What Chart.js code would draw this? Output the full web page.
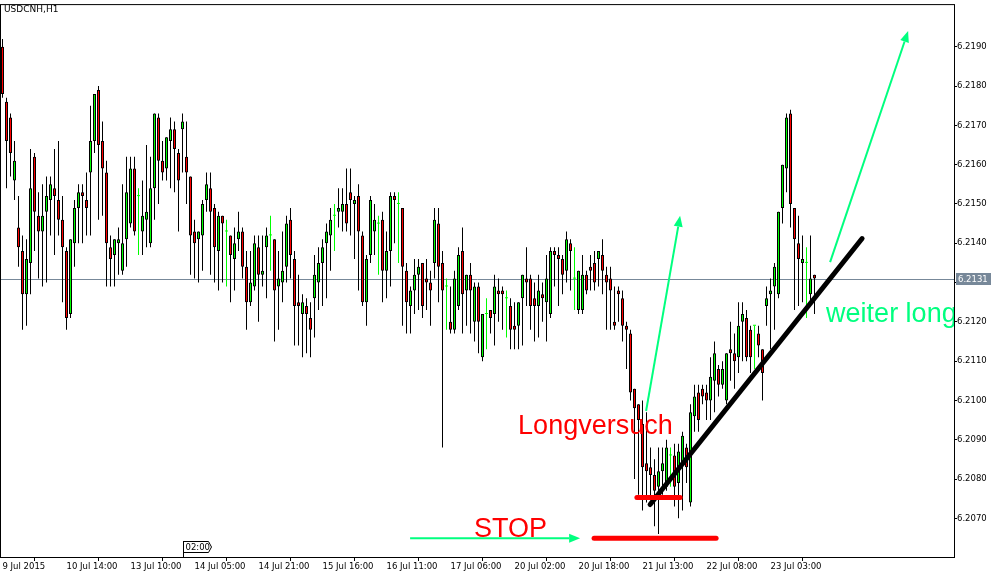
<!DOCTYPE html>
<html>
<head>
<meta charset="utf-8">
<title>USDCNH,H1</title>
<script src="https://cdn.jsdelivr.net/npm/chart.js@4.4.1/dist/chart.umd.min.js"></script>
<style>
  html, body { margin: 0; padding: 0; background: #fff; }
  #chart { display: block; }
</style>
</head>
<body>
<canvas id="chart" width="1002" height="578"></canvas>
<script>
const symbol = "USDCNH,H1";

// H1 candles, one entry per bar (16 bars per row = one time label)
const opens = [
  6.2190, 6.2176, 6.2172, 6.2156, 6.2144, 6.2138, 6.2127, 6.2135, 6.2162, 6.2147, 6.2143, 6.2148, 6.2151, 6.2154, 6.2151, 6.2146,
  6.2138, 6.2122, 6.2140, 6.2149, 6.2153, 6.2151, 6.2158, 6.2166, 6.2179, 6.2166, 6.2158, 6.2139, 6.2137, 6.2140, 6.2133, 6.2141,
  6.2145, 6.2159, 6.2152, 6.2143, 6.2146, 6.2140, 6.2154, 6.2172, 6.2161, 6.2159, 6.2166, 6.2169, 6.2163, 6.2169, 6.2162, 6.2157,
  6.2143, 6.2141, 6.2142, 6.2151, 6.2154, 6.2149, 6.2138, 6.2147, 6.2143, 6.2142, 6.2136, 6.2141, 6.2143, 6.2134, 6.2125, 6.2129,
  6.2139, 6.2132, 6.2139, 6.2142, 6.2141, 6.2129, 6.2130, 6.2134, 6.2146, 6.2136, 6.2125, 6.2122, 6.2124, 6.2121, 6.2126, 6.2130,
  6.2135, 6.2140, 6.2142, 6.2147, 6.2148, 6.2148, 6.2150, 6.2153, 6.2150, 6.2152, 6.2142, 6.2125, 6.2137, 6.2143, 6.2145, 6.2146,
  6.2133, 6.2138, 6.2152, 6.2150, 6.2149, 6.2133, 6.2124, 6.2128, 6.2132, 6.2135, 6.2131, 6.2130, 6.2135, 6.2145, 6.2135, 6.2129,
  6.2120, 6.2118, 6.2124, 6.2138, 6.2128, 6.2132, 6.2120, 6.2129, 6.2111, 6.2122, 6.2123, 6.2122, 6.2128, 6.2128, 6.2126, 6.2124,
  6.2119, 6.2119, 6.2126, 6.2131, 6.2131, 6.2126, 6.2124, 6.2127, 6.2125, 6.2122, 6.2138, 6.2137, 6.2136, 6.2133, 6.2140, 6.2131,
  6.2123, 6.2123, 6.2132, 6.2134, 6.2135, 6.2136, 6.2137, 6.2132, 6.2131, 6.2120, 6.2128, 6.2126, 6.2119, 6.2117, 6.2103, 6.2099,
  6.2094, 6.2084, 6.2083, 6.2081, 6.2078, 6.2082, 6.2078, 6.2086, 6.2086, 6.2079, 6.2084, 6.2088, 6.2074, 6.2096, 6.2102, 6.2103,
  6.2102, 6.2100, 6.2105, 6.2108, 6.2104, 6.2100, 6.2113, 6.2112, 6.2111, 6.2120, 6.2121, 6.2118, 6.2119, 6.2117, 6.2113, 6.2124,
  6.2127, 6.2129, 6.2127, 6.2149, 6.2159, 6.2173, 6.2149, 6.2140, 6.2135, 6.2135, 6.2127, 6.2132
];
const highs = [
  6.2192, 6.2177, 6.2173, 6.2166, 6.2152, 6.2142, 6.2141, 6.2164, 6.2163, 6.2153, 6.2155, 6.2157, 6.2157, 6.2164, 6.2166, 6.2152,
  6.2139, 6.2141, 6.2151, 6.2155, 6.2155, 6.2158, 6.2175, 6.2178, 6.2180, 6.2171, 6.2161, 6.2142, 6.2141, 6.2144, 6.2155, 6.2162,
  6.2162, 6.2162, 6.2154, 6.2156, 6.2165, 6.2162, 6.2173, 6.2173, 6.2166, 6.2167, 6.2172, 6.2171, 6.2164, 6.2173, 6.2171, 6.2157,
  6.2146, 6.2143, 6.2151, 6.2158, 6.2158, 6.2150, 6.2148, 6.2147, 6.2146, 6.2142, 6.2144, 6.2148, 6.2144, 6.2138, 6.2138, 6.2142,
  6.2142, 6.2142, 6.2144, 6.2147, 6.2141, 6.2138, 6.2143, 6.2147, 6.2149, 6.2138, 6.2132, 6.2127, 6.2126, 6.2125, 6.2137, 6.2139,
  6.2141, 6.2145, 6.2149, 6.2150, 6.2154, 6.2154, 6.2159, 6.2159, 6.2152, 6.2155, 6.2143, 6.2137, 6.2152, 6.2150, 6.2147, 6.2148,
  6.2143, 6.2153, 6.2153, 6.2153, 6.2149, 6.2135, 6.2129, 6.2136, 6.2136, 6.2135, 6.2136, 6.2133, 6.2149, 6.2149, 6.2138, 6.2131,
  6.2129, 6.2133, 6.2139, 6.2144, 6.2132, 6.2135, 6.2130, 6.2130, 6.2122, 6.2126, 6.2123, 6.2132, 6.2131, 6.2129, 6.2128, 6.2126,
  6.2125, 6.2125, 6.2132, 6.2139, 6.2132, 6.2130, 6.2132, 6.2130, 6.2137, 6.2139, 6.2139, 6.2139, 6.2137, 6.2143, 6.2141, 6.2139,
  6.2133, 6.2137, 6.2133, 6.2137, 6.2138, 6.2138, 6.2141, 6.2134, 6.2134, 6.2129, 6.2129, 6.2128, 6.2120, 6.2118, 6.2103, 6.2099,
  6.2100, 6.2097, 6.2088, 6.2085, 6.2088, 6.2088, 6.2090, 6.2088, 6.2089, 6.2089, 6.2092, 6.2089, 6.2099, 6.2104, 6.2104, 6.2104,
  6.2104, 6.2111, 6.2115, 6.2109, 6.2110, 6.2112, 6.2120, 6.2117, 6.2125, 6.2125, 6.2123, 6.2119, 6.2119, 6.2119, 6.2113, 6.2129,
  6.2131, 6.2135, 6.2148, 6.2160, 6.2173, 6.2174, 6.2149, 6.2147, 6.2142, 6.2139, 6.2142, 6.2132
];
const lows = [
  6.2177, 6.2154, 6.2157, 6.2151, 6.2134, 6.2118, 6.2119, 6.2127, 6.2138, 6.2131, 6.2129, 6.2130, 6.2142, 6.2137, 6.2142, 6.2125,
  6.2118, 6.2121, 6.2134, 6.2140, 6.2140, 6.2142, 6.2142, 6.2163, 6.2146, 6.2147, 6.2129, 6.2129, 6.2129, 6.2132, 6.2132, 6.2134,
  6.2144, 6.2142, 6.2137, 6.2137, 6.2139, 6.2139, 6.2146, 6.2150, 6.2156, 6.2156, 6.2154, 6.2153, 6.2143, 6.2158, 6.2150, 6.2132,
  6.2131, 6.2130, 6.2133, 6.2148, 6.2132, 6.2130, 6.2128, 6.2130, 6.2129, 6.2125, 6.2128, 6.2138, 6.2131, 6.2118, 6.2124, 6.2128,
  6.2120, 6.2129, 6.2126, 6.2133, 6.2115, 6.2118, 6.2125, 6.2130, 6.2131, 6.2114, 6.2114, 6.2111, 6.2112, 6.2111, 6.2116, 6.2123,
  6.2124, 6.2126, 6.2133, 6.2138, 6.2144, 6.2143, 6.2143, 6.2142, 6.2136, 6.2128, 6.2124, 6.2119, 6.2135, 6.2137, 6.2132, 6.2125,
  6.2126, 6.2129, 6.2140, 6.2135, 6.2119, 6.2117, 6.2117, 6.2122, 6.2123, 6.2121, 6.2123, 6.2119, 6.2131, 6.2125, 6.2088, 6.2118,
  6.2117, 6.2117, 6.2123, 6.2117, 6.2119, 6.2117, 6.2115, 6.2112, 6.2110, 6.2113, 6.2117, 6.2114, 6.2120, 6.2118, 6.2116, 6.2113,
  6.2113, 6.2113, 6.2114, 6.2124, 6.2118, 6.2115, 6.2116, 6.2120, 6.2115, 6.2121, 6.2129, 6.2124, 6.2127, 6.2130, 6.2128, 6.2123,
  6.2122, 6.2122, 6.2127, 6.2128, 6.2128, 6.2129, 6.2127, 6.2118, 6.2118, 6.2118, 6.2120, 6.2115, 6.2108, 6.2100, 6.2080, 6.2076,
  6.2072, 6.2074, 6.2075, 6.2068, 6.2066, 6.2076, 6.2077, 6.2078, 6.2073, 6.2070, 6.2072, 6.2079, 6.2073, 6.2092, 6.2092, 6.2099,
  6.2095, 6.2095, 6.2097, 6.2101, 6.2103, 6.2099, 6.2105, 6.2103, 6.2107, 6.2110, 6.2110, 6.2107, 6.2108, 6.2111, 6.2100, 6.2119,
  6.2113, 6.2118, 6.2126, 6.2145, 6.2153, 6.2144, 6.2123, 6.2124, 6.2125, 6.2121, 6.2125, 6.2122
];
const closes = [
  6.2178, 6.2166, 6.2163, 6.2161, 6.2139, 6.2127, 6.2136, 6.2154, 6.2148, 6.2143, 6.2147, 6.2152, 6.2155, 6.2152, 6.2146, 6.2139,
  6.2121, 6.2141, 6.2149, 6.2153, 6.2152, 6.2149, 6.2166, 6.2178, 6.2165, 6.2159, 6.2140, 6.2136, 6.2141, 6.2141, 6.2140, 6.2153,
  6.2159, 6.2143, 6.2152, 6.2147, 6.2148, 6.2154, 6.2173, 6.2161, 6.2158, 6.2167, 6.2169, 6.2164, 6.2156, 6.2171, 6.2158, 6.2142,
  6.2140, 6.2143, 6.2150, 6.2155, 6.2148, 6.2139, 6.2147, 6.2145, 6.2143, 6.2137, 6.2140, 6.2143, 6.2134, 6.2125, 6.2130, 6.2140,
  6.2132, 6.2133, 6.2142, 6.2142, 6.2128, 6.2131, 6.2133, 6.2145, 6.2137, 6.2124, 6.2124, 6.2125, 6.2122, 6.2118, 6.2132, 6.2135,
  6.2139, 6.2143, 6.2146, 6.2147, 6.2149, 6.2150, 6.2145, 6.2151, 6.2151, 6.2143, 6.2125, 6.2136, 6.2151, 6.2146, 6.2145, 6.2133,
  6.2138, 6.2152, 6.2151, 6.2150, 6.2134, 6.2125, 6.2128, 6.2132, 6.2134, 6.2124, 6.2130, 6.2128, 6.2146, 6.2134, 6.2128, 6.2129,
  6.2118, 6.2131, 6.2137, 6.2127, 6.2132, 6.2128, 6.2129, 6.2120, 6.2122, 6.2122, 6.2121, 6.2129, 6.2127, 6.2127, 6.2126, 6.2118,
  6.2118, 6.2125, 6.2132, 6.2130, 6.2124, 6.2124, 6.2128, 6.2126, 6.2131, 6.2138, 6.2137, 6.2136, 6.2132, 6.2141, 6.2138, 6.2131,
  6.2133, 6.2132, 6.2128, 6.2133, 6.2130, 6.2138, 6.2133, 6.2130, 6.2128, 6.2119, 6.2127, 6.2119, 6.2118, 6.2102, 6.2098, 6.2095,
  6.2083, 6.2082, 6.2081, 6.2077, 6.2082, 6.2084, 6.2088, 6.2086, 6.2078, 6.2087, 6.2091, 6.2083, 6.2097, 6.2101, 6.2095, 6.2101,
  6.2100, 6.2106, 6.2112, 6.2104, 6.2108, 6.2112, 6.2112, 6.2110, 6.2119, 6.2122, 6.2111, 6.2111, 6.2119, 6.2114, 6.2107, 6.2126,
  6.2128, 6.2134, 6.2148, 6.2160, 6.2172, 6.2150, 6.2141, 6.2136, 6.2136, 6.2135, 6.2131, 6.2131
];

// time axis: one label every 16 bars, starting at bar 0
const timeLabels = [
  "9 Jul 2015", "10 Jul 14:00", "13 Jul 10:00", "14 Jul 05:00", "14 Jul 21:00", "15 Jul 16:00", "16 Jul 11:00",
  "17 Jul 06:00", "20 Jul 02:00", "20 Jul 18:00", "21 Jul 13:00", "22 Jul 08:00", "23 Jul 03:00"
];
const barsPerLabel = 16;
const priceTicks = [6.2070, 6.2080, 6.2090, 6.2100, 6.2110, 6.2120, 6.2130, 6.2140, 6.2150, 6.2160, 6.2170, 6.2180, 6.2190];
const lastPrice = 6.2131;
const markerBar = 45;
const markerText = "02:00";

// hand drawn objects, placed by bar index and price
const drawnLines = [
  { from: [161.9, 6.20735], to: [214.9, 6.21412], color: "#000000", width: 5 },
  { from: [158.6, 6.20753], to: [169.4, 6.20753], color: "#ff0000", width: 5 },
  { from: [147.9, 6.20649], to: [178.4, 6.20649], color: "#ff0000", width: 5 }
];
const drawnArrows = [
  { from: [101.9, 6.20649], to: [144.4, 6.20649] },
  { from: [160.9, 6.20973], to: [169.4, 6.21470] },
  { from: [206.9, 6.21352], to: [226.4, 6.21940] }
];
const drawnTexts = [
  { text: "Longversuch", at: [128.9, 6.20915], color: "#ff0000" },
  { text: "STOP", at: [117.9, 6.20652], color: "#ff0000" },
  { text: "weiter long", at: [205.9, 6.21200], color: "#00ff7f" }
];

const BULL = "#00ff00";
const BEAR = "#ff0000";
const ARROW = "#00ff7f";
const axisFont = { family: "DejaVu Sans", size: 8.5 };

const bars = opens.map((_, i) => i);
const isDoji = i => opens[i] === closes[i];

const wickData = bars.map(i => ({ x: i, y: [lows[i], highs[i]] }));
const bodyData = bars.map(i => ({ x: i, y: [Math.min(opens[i], closes[i]), Math.max(opens[i], closes[i])] }));

// price line behind the candles
const priceLine = {
  id: "priceLine",
  beforeDatasetsDraw(chart) {
    const { ctx, chartArea: a, scales } = chart;
    const y = Math.round(scales.y.getPixelForValue(lastPrice)) + 0.5;
    ctx.save();
    ctx.strokeStyle = "#778899";
    ctx.lineWidth = 1;
    ctx.beginPath();
    ctx.moveTo(a.left, y);
    ctx.lineTo(a.right, y);
    ctx.stroke();
    ctx.restore();
  }
};

// user objects, frame, title, price label
const overlay = {
  id: "overlay",
  afterDatasetsDraw(chart) {
    const { ctx, chartArea: a, scales } = chart;
    const px = p => [scales.x.getPixelForValue(p[0]), scales.y.getPixelForValue(p[1])];
    ctx.save();
    ctx.beginPath();
    ctx.rect(a.left, a.top, a.right - a.left, a.bottom - a.top);
    ctx.clip();

    drawnLines.forEach(l => {
      const [x1, y1] = px(l.from), [x2, y2] = px(l.to);
      ctx.strokeStyle = l.color;
      ctx.lineWidth = l.width;
      ctx.lineCap = "round";
      ctx.beginPath();
      ctx.moveTo(x1, y1);
      ctx.lineTo(x2, y2);
      ctx.stroke();
    });

    drawnArrows.forEach(ar => {
      const [x1, y1] = px(ar.from), [x2, y2] = px(ar.to);
      const ang = Math.atan2(y2 - y1, x2 - x1);
      const len = 11, half = 4.5;
      const bx = x2 - Math.cos(ang) * len, by = y2 - Math.sin(ang) * len;
      ctx.strokeStyle = ARROW;
      ctx.fillStyle = ARROW;
      ctx.lineWidth = 2;
      ctx.lineCap = "butt";
      ctx.beginPath();
      ctx.moveTo(x1, y1);
      ctx.lineTo(bx, by);
      ctx.stroke();
      ctx.beginPath();
      ctx.moveTo(x2, y2);
      ctx.lineTo(bx + Math.sin(ang) * half, by - Math.cos(ang) * half);
      ctx.lineTo(bx - Math.sin(ang) * half, by + Math.cos(ang) * half);
      ctx.closePath();
      ctx.fill();
    });

    ctx.font = "27px 'Liberation Sans', Arial, sans-serif";
    ctx.textBaseline = "alphabetic";
    ctx.textAlign = "left";
    drawnTexts.forEach(t => {
      const [x, y] = px(t.at);
      ctx.fillStyle = t.color;
      ctx.fillText(t.text, x, y);
    });

    // period marker on the time axis
    const mx = Math.round(scales.x.getPixelForValue(markerBar)) + 0.5;
    ctx.strokeStyle = "#000";
    ctx.lineWidth = 1;
    ctx.fillStyle = "#fff";
    ctx.beginPath();
    ctx.moveTo(mx, 541.5);
    ctx.lineTo(mx + 25, 541.5);
    ctx.lineTo(mx + 28, 547);
    ctx.lineTo(mx + 25, 552.5);
    ctx.lineTo(mx, 552.5);
    ctx.closePath();
    ctx.fill();
    ctx.stroke();
    ctx.beginPath();
    ctx.moveTo(mx, 541);
    ctx.lineTo(mx, a.bottom);
    ctx.stroke();
    ctx.fillStyle = "#000";
    ctx.font = "8.5px 'DejaVu Sans'";
    ctx.textBaseline = "middle";
    ctx.fillText(markerText, mx + 2, 547.5);
    ctx.restore();
  },
  afterDraw(chart) {
    const { ctx, chartArea: a, scales } = chart;
    ctx.save();
    ctx.strokeStyle = "#000";
    ctx.lineWidth = 1;
    ctx.strokeRect(a.left - 0.5, a.top - 0.5, a.right - a.left + 1, a.bottom - a.top + 1);

    ctx.fillStyle = "#000";
    ctx.font = "9px 'DejaVu Sans'";
    ctx.textBaseline = "top";
    ctx.fillText(symbol, 4, 5);

    const y = Math.round(scales.y.getPixelForValue(lastPrice));
    ctx.font = "8.5px 'DejaVu Sans'";
    ctx.fillStyle = "#778899";
    ctx.fillRect(a.right + 2, y - 6, 35, 12);
    ctx.fillStyle = "#fff";
    ctx.textBaseline = "middle";
    ctx.fillText(lastPrice.toFixed(4), a.right + 4, y + 0.5);
    ctx.restore();
  }
};

new Chart(document.getElementById("chart"), {
  type: "bar",
  data: {
    datasets: [
      {
        label: "range",
        data: wickData,
        backgroundColor: bars.map(i => isDoji(i) ? BULL : "#000000"),
        borderWidth: 0,
        barThickness: 1,
        grouped: false,
        inflateAmount: 0,
        order: 2
      },
      {
        label: "body",
        data: bodyData,
        backgroundColor: bars.map(i => closes[i] < opens[i] ? BEAR : BULL),
        borderColor: bars.map(i => isDoji(i) ? BULL : "#000000"),
        borderWidth: bars.map(i => isDoji(i) ? 0 : 1),
        borderSkipped: false,
        barThickness: 3,
        minBarLength: 1,
        grouped: false,
        inflateAmount: 0,
        order: 1
      }
    ]
  },
  options: {
    responsive: false,
    animation: false,
    layout: { padding: { left: 1, top: 1, right: 0, bottom: 0 } },
    plugins: { legend: { display: false }, tooltip: { enabled: false } },
    scales: {
      x: {
        type: "linear",
        offset: false,
        min: -0.375,
        max: 237.875,
        afterBuildTicks: s => { s.ticks = timeLabels.map((_, k) => ({ value: k * barsPerLabel })); },
        afterFit: s => { s.height = 21; },
        ticks: {
          autoSkip: false,
          maxRotation: 0,
          align: "start",
          padding: 1,
          color: "#000",
          font: axisFont,
          callback: v => timeLabels[v / barsPerLabel]
        },
        grid: { drawOnChartArea: false, drawTicks: true, tickLength: 4, color: "#000" },
        border: { display: false }
      },
      y: {
        position: "right",
        min: 6.206015,
        max: 6.220061,
        afterBuildTicks: s => { s.ticks = priceTicks.map(v => ({ value: v })); },
        afterFit: s => { s.width = 48; },
        ticks: {
          padding: 0,
          color: "#000",
          font: axisFont,
          callback: v => v.toFixed(4)
        },
        grid: { drawOnChartArea: false, drawTicks: true, tickLength: 3, color: "#000" },
        border: { display: false }
      }
    }
  },
  plugins: [priceLine, overlay]
});
</script>
</body>
</html>
